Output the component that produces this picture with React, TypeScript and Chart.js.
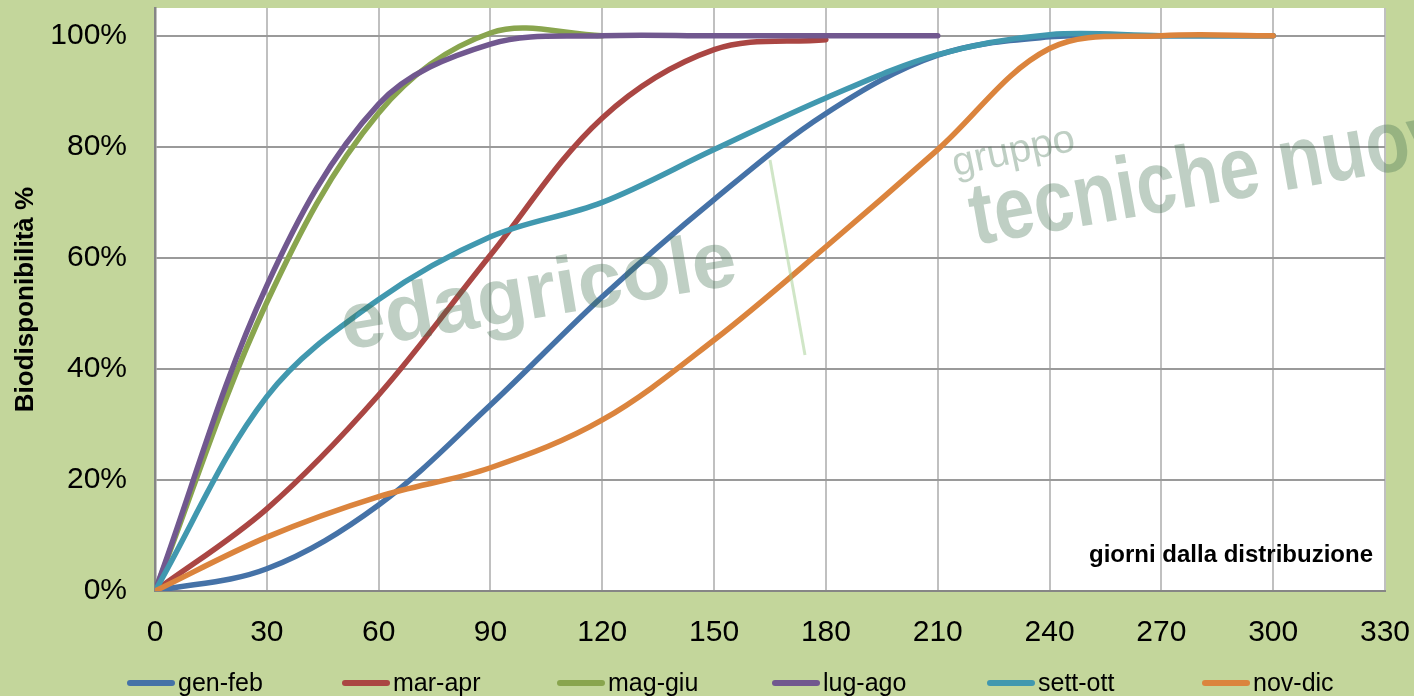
import React, { useEffect, useRef } from 'react';
import { Chart, registerables } from 'chart.js';

Chart.register(...registerables);

// ---- data ----
const DAYS = [0, 30, 60, 90, 120, 150, 180, 210, 240, 270, 300];
const SERIES_NAMES = ['gen-feb', 'mar-apr', 'mag-giu', 'lug-ago', 'sett-ott', 'nov-dic'];
const GEN_FEB = [0, 0.04, 0.155, 0.335, 0.53, 0.705, 0.86, 0.965, 0.998, 1.0, 1.0];
const MAR_APR = [0, 0.148, 0.353, 0.605, 0.852, 0.975, 0.993];
const MAG_GIU = [0, 0.52, 0.861, 1.005, 1.0];
const LUG_AGO = [0, 0.55, 0.877, 0.985, 1.0, 1.0, 1.0, 1.0];
const SETT_OTT = [0, 0.35, 0.525, 0.638, 0.7, 0.795, 0.888, 0.966, 1.002, 1.0, 1.0];
const NOV_DIC = [0, 0.097, 0.17, 0.222, 0.308, 0.452, 0.62, 0.795, 0.977, 1.0, 1.0];
const SERIES_VALUES = [GEN_FEB, MAR_APR, MAG_GIU, LUG_AGO, SETT_OTT, NOV_DIC];
const COLORS = ['#4572A7', '#AA4643', '#89A54E', '#71588F', '#4198AF', '#DB843D'];
const Y_TICKS = [0, 0.2, 0.4, 0.6, 0.8, 1.0];
const X_TICKS = [0, 30, 60, 90, 120, 150, 180, 210, 240, 270, 300, 330];
const Y_TITLE = 'Biodisponibilità %';
const X_TITLE = 'giorni dalla distribuzione';
const WATERMARK_1 = 'edagricole';
const WATERMARK_2 = 'gruppo';
const WATERMARK_3 = 'tecniche nuove';

const FONT = '"Liberation Sans", Arial, Helvetica, sans-serif';
const BG = '#C3D69B';

const backgroundPlugin = {
  id: 'bgPlugin',
  beforeDraw(chart: any) {
    const { ctx, chartArea } = chart;
    ctx.save();
    ctx.fillStyle = BG;
    ctx.fillRect(0, 0, chart.width, chart.height);
    ctx.fillStyle = '#ffffff';
    ctx.fillRect(chartArea.left, chartArea.top, chartArea.right - chartArea.left, chartArea.bottom - chartArea.top);
    ctx.restore();
  },
};

const overlayPlugin = {
  id: 'overlayPlugin',
  afterDraw(chart: any) {
    const { ctx, chartArea } = chart;
    const h = chart.height;
    ctx.save();
    // x-axis title inside the plot
    ctx.fillStyle = '#000';
    ctx.font = `bold 24px ${FONT}`;
    ctx.textAlign = 'right';
    ctx.textBaseline = 'alphabetic';
    ctx.fillText(X_TITLE, chartArea.right - 12, chartArea.bottom - 29);

    // legend
    ctx.font = `25px ${FONT}`;
    ctx.textAlign = 'left';
    chart.data.datasets.forEach((ds: any, i: number) => {
      const x0 = 127 + i * 215;
      ctx.strokeStyle = ds.borderColor;
      ctx.lineWidth = 6;
      ctx.lineCap = 'round';
      ctx.beginPath();
      ctx.moveTo(x0 + 3, h - 13);
      ctx.lineTo(x0 + 45, h - 13);
      ctx.stroke();
      ctx.fillStyle = '#000';
      ctx.fillText(ds.label, x0 + 51, h - 5);
    });

    // watermark
    const wm = 'rgba(60,110,75,0.33)';
    ctx.fillStyle = wm;
    ctx.save();
    ctx.translate(345, 350);
    ctx.rotate((-9.5 * Math.PI) / 180);
    ctx.font = `bold 80px ${FONT}`;
    ctx.fillText(WATERMARK_1, 0, 0);
    ctx.restore();

    ctx.save();
    ctx.translate(955, 176);
    ctx.rotate((-12 * Math.PI) / 180);
    ctx.font = `40px ${FONT}`;
    ctx.fillText(WATERMARK_2, 0, 0);
    ctx.restore();

    ctx.save();
    ctx.translate(975, 245);
    ctx.rotate((-10 * Math.PI) / 180);
    ctx.scale(0.82, 1);
    ctx.font = `bold 88px ${FONT}`;
    ctx.fillText(WATERMARK_3, 0, 0);
    ctx.restore();

    ctx.strokeStyle = 'rgba(150,200,130,0.45)';
    ctx.lineWidth = 3;
    ctx.lineCap = 'butt';
    ctx.beginPath();
    ctx.moveTo(770, 160);
    ctx.lineTo(805, 355);
    ctx.stroke();

    ctx.restore();
  },
};

export default function App() {
  const canvasRef = useRef<HTMLCanvasElement | null>(null);

  useEffect(() => {
    document.body.style.margin = '0';
    const canvas = canvasRef.current;
    if (!canvas) return;
    const datasets = SERIES_NAMES.map((name, i) => ({
      label: name,
      data: SERIES_VALUES[i].map((v, j) => ({ x: DAYS[j], y: v })),
      borderColor: COLORS[i],
      backgroundColor: COLORS[i],
      borderWidth: 5.5,
      borderCapStyle: 'round' as const,
      borderJoinStyle: 'round' as const,
      pointRadius: 0,
      pointHoverRadius: 0,
      tension: 0.35,
      fill: false,
      order: SERIES_NAMES.length - i,
    }));

    const chart = new Chart(canvas, {
      type: 'line',
      data: { datasets },
      options: {
        animation: false,
        responsive: false,
        devicePixelRatio: 1,
        events: [],
        layout: { padding: { top: 8, right: 29, bottom: 0, left: 0 } },
        plugins: {
          legend: { display: false },
          tooltip: { enabled: false },
          title: { display: false },
        },
        scales: {
          x: {
            type: 'linear',
            min: 0,
            max: 330,
            afterBuildTicks: (scale: any) => {
              scale.ticks = X_TICKS.map((v) => ({ value: v }));
            },
            afterFit: (scale: any) => {
              scale.height = 105;
              scale.paddingLeft = 0;
              scale.paddingRight = 0;
              scale.paddingTop = 0;
              scale.paddingBottom = 0;
            },
            ticks: {
              color: '#000',
              font: { family: FONT, size: 30 },
              padding: 24,
              maxRotation: 0,
              autoSkip: false,
            },
            grid: { color: '#C0C0C0', lineWidth: 2, drawTicks: false },
            border: { color: '#868686', width: 2 },
          },
          y: {
            type: 'linear',
            min: 0,
            max: 1.05,
            afterBuildTicks: (scale: any) => {
              scale.ticks = Y_TICKS.map((v) => ({ value: v }));
            },
            afterFit: (scale: any) => {
              scale.width = 155;
              scale.paddingLeft = 0;
              scale.paddingRight = 0;
              scale.paddingTop = 0;
              scale.paddingBottom = 0;
            },
            ticks: {
              color: '#000',
              font: { family: FONT, size: 30 },
              padding: 28,
              callback: (v: any) => `${Math.round(Number(v) * 100)}%`,
            },
            grid: { color: '#9A9A9A', lineWidth: 2, drawTicks: false },
            border: { color: '#868686', width: 2.5 },
            title: {
              display: true,
              text: Y_TITLE,
              color: '#000',
              font: { family: FONT, size: 26, weight: 'bold' },
              padding: { top: 10, bottom: 0 },
            },
          },
        },
      },
      plugins: [backgroundPlugin, overlayPlugin],
    });
    return () => chart.destroy();
  }, []);

  return (
    <div style={{ width: 1414, height: 696, position: 'relative' }}>
      <canvas ref={canvasRef} width={1414} height={696} style={{ display: 'block', width: 1414, height: 696 }} />
    </div>
  );
}
